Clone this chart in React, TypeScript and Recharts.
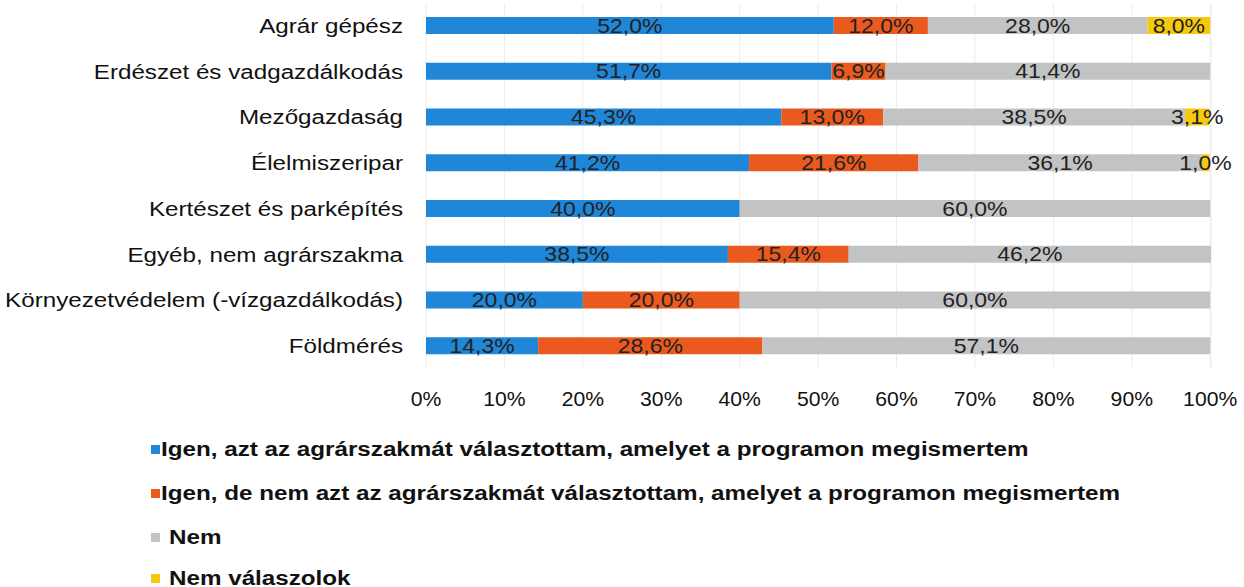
import { BarChart, Bar, XAxis, YAxis, CartesianGrid, LabelList } from "recharts";

const categories = [
  "Agrár gépész",
  "Erdészet és vadgazdálkodás",
  "Mezőgazdaság",
  "Élelmiszeripar",
  "Kertészet és parképítés",
  "Egyéb, nem agrárszakma",
  "Környezetvédelem (-vízgazdálkodás)",
  "Földmérés",
];

const igenUgyanaz = [52.0, 51.7, 45.3, 41.2, 40.0, 38.5, 20.0, 14.3];
const igenMas = [12.0, 6.9, 13.0, 21.6, 0, 15.4, 20.0, 28.6];
const nem = [28.0, 41.4, 38.5, 36.1, 60.0, 46.2, 60.0, 57.1];
const nemValaszolok = [8.0, 0, 3.1, 1.0, 0, 0, 0, 0];

const xTicks = [0, 10, 20, 30, 40, 50, 60, 70, 80, 90, 100];

const series = [
  { key: "a", name: "Igen, azt az agrárszakmát választottam, amelyet a programon megismertem", color: "#1f86d8" },
  { key: "b", name: "Igen, de nem azt az agrárszakmát választottam, amelyet a programon megismertem", color: "#ea5a1e" },
  { key: "c", name: "Nem", color: "#c2c3c5" },
  { key: "d", name: "Nem válaszolok", color: "#f6c80e" },
];

const data = categories.map((name, i) => ({
  name,
  a: igenUgyanaz[i],
  b: igenMas[i],
  c: nem[i],
  d: nemValaszolok[i],
}));

const FONT = "'Liberation Sans', Arial, sans-serif";

const fmt = (v: number) => v.toFixed(1).replace(".", ",") + "%";

function CategoryTick(props: any) {
  const { x, y, payload } = props;
  return (
    <g transform={`translate(${x},${y})`}>
      <text
        transform="scale(1.21,1)"
        textAnchor="end"
        dy={7}
        fontSize={20}
        fontFamily={FONT}
        fill="#111"
      >
        {payload.value}
      </text>
    </g>
  );
}

function PercentTick(props: any) {
  const { x, y, payload } = props;
  return (
    <g transform={`translate(${x},${y})`}>
      <text
        transform="scale(1.06,1)"
        textAnchor="middle"
        dy={37}
        fontSize={20}
        fontFamily={FONT}
        fill="#111"
      >
        {payload.value}%
      </text>
    </g>
  );
}

function BarLabel(props: any) {
  const { x, y, width, height, value } = props;
  if (!value) return null;
  return (
    <g transform={`translate(${x + width / 2},${y + height / 2})`}>
      <text
        transform="scale(1.15,1)"
        textAnchor="middle"
        dy={7}
        fontSize={20}
        fontFamily={FONT}
        fill="#222"
      >
        {fmt(value)}
      </text>
    </g>
  );
}

const legendTops = [449, 493, 537, 578];

export default function App() {
  return (
    <div style={{ position: "absolute", left: 0, top: 0, width: 1244, height: 587, background: "#fff" }}>
      <BarChart
        width={1244}
        height={420}
        data={data}
        layout="vertical"
        margin={{ top: 3, right: 33, left: 0, bottom: 21 }}
        barSize={17}
      >
        <CartesianGrid horizontal={false} stroke="#ececec" />
        <XAxis
          type="number"
          domain={[0, 100]}
          ticks={xTicks}
          axisLine={false}
          tickLine={false}
          tickSize={0}
          tickMargin={0}
          height={30}
          tick={<PercentTick />}
          interval={0}
        />
        <YAxis
          type="category"
          dataKey="name"
          width={426}
          axisLine={false}
          tickLine={false}
          tickSize={0}
          tickMargin={23}
          tick={<CategoryTick />}
          interval={0}
        />
        {series.map((s) => (
          <Bar key={s.key} dataKey={s.key} name={s.name} stackId="x" fill={s.color} isAnimationActive={false}>
            <LabelList dataKey={s.key} content={<BarLabel />} />
          </Bar>
        ))}
      </BarChart>
      {series.map((s, i) => (
        <div
          key={s.key}
          style={{
            position: "absolute",
            left: 151,
            top: legendTops[i] - 12,
            height: 24,
            display: "flex",
            alignItems: "center",
            fontFamily: FONT,
            fontWeight: "bold",
            fontSize: 20,
            color: "#111",
            whiteSpace: "nowrap",
          }}
        >
          <span style={{ display: "inline-block", width: 9, height: 9, background: s.color, marginRight: i < 2 ? 1 : 9 }} />
          <span style={{ display: "inline-block", transform: "scaleX(1.21)", transformOrigin: "left center" }}>{s.name}</span>
        </div>
      ))}
    </div>
  );
}
